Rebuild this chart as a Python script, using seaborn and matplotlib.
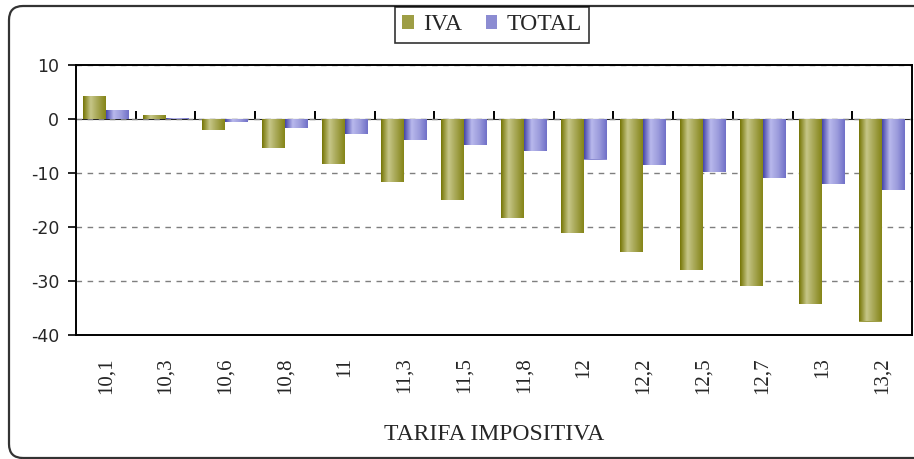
import numpy as np
import pandas as pd
import seaborn as sns
import matplotlib.pyplot as plt
from matplotlib.patches import FancyBboxPatch
from matplotlib.colors import LinearSegmentedColormap

tarifas = ["10,1", "10,3", "10,6", "10,8", "11", "11,3", "11,5", "11,8",
           "12", "12,2", "12,5", "12,7", "13", "13,2"]
iva = [4.2, 0.8, -2.0, -5.4, -8.3, -11.6, -15.0, -18.3, -21.2, -24.6, -27.9, -31.0, -34.2, -37.5]
total = [1.6, 0.1, -0.5, -1.6, -2.7, -3.8, -4.9, -6.0, -7.5, -8.6, -9.8, -10.9, -12.0, -13.1]
series = ["IVA", "TOTAL"]
y_ticks = [10, 0, -10, -20, -30, -40]

df = pd.DataFrame({
    "tarifa": tarifas * 2,
    "serie": ["IVA"] * len(tarifas) + ["TOTAL"] * len(tarifas),
    "valor": iva + total,
})

olive = "#9e9e45"
blue = "#8c8cd2"
olive_cmap = LinearSegmentedColormap.from_list("olive", ["#767606", "#c6c688", "#a4a450", "#858518"])
blue_cmap = LinearSegmentedColormap.from_list("blue", ["#4646aa", "#b8b8ec", "#9c9cdc", "#7070c8"])

sns.set_style("white")
serif = ["Liberation Serif", "DejaVu Serif"]

fig = plt.figure(figsize=(9.14, 4.59), dpi=100)
ax = fig.add_axes([76 / 914, 124 / 459, 836 / 914, 270 / 459])

sns.barplot(data=df, x="tarifa", y="valor", hue="serie", hue_order=series,
            palette=[olive, blue], width=0.77, ax=ax, legend=False,
            edgecolor="none", linewidth=0, saturation=1)

# gradient shading clipped to each bar
grad = np.linspace(0, 1, 64).reshape(1, -1)
for cont, cmap in zip(ax.containers, [olive_cmap, blue_cmap]):
    for p in cont:
        x0, y0, w, h = p.get_x(), p.get_y(), p.get_width(), p.get_height()
        if abs(h) < 1e-9:
            continue
        im = ax.imshow(grad, cmap=cmap, extent=(x0, x0 + w, y0, y0 + h),
                       aspect="auto", zorder=p.get_zorder() + 0.1)
        im.set_clip_path(p)

ymin, ymax = -40, 10
ax.set_xlim(-0.5, len(tarifas) - 0.5)
ax.set_ylim(ymin, ymax)
ax.set_yticks(y_ticks)
ax.set_yticklabels([str(v) for v in y_ticks], fontsize=12.5, family="DejaVu Sans")
ax.tick_params(axis="y", direction="out", length=6, width=1.2, color="black", pad=6, left=True)
ax.tick_params(axis="x", length=0, pad=16)
ax.set_xticks(range(len(tarifas)))
ax.set_xticklabels(tarifas, rotation=90, fontsize=15, family=serif)

ax.set_axisbelow(True)
ax.yaxis.grid(True, linestyle=(0, (4, 4)), color="#7f7f7f", linewidth=1)
ax.xaxis.grid(False)
for s in ax.spines.values():
    s.set_visible(True)
    s.set_color("black")
    s.set_linewidth(1.4)

ax.set_xlabel("TARIFA IMPOSITIVA", fontsize=17, family=serif, labelpad=22)
ax.set_ylabel("")

# category axis crossing at zero with tick marks between groups
zero_pos = (0 - ymin) / (ymax - ymin)
sec = ax.secondary_xaxis(zero_pos)
sec.set_xticks(np.arange(len(tarifas) - 1) + 0.5)
sec.set_xticklabels([])
sec.tick_params(direction="out", length=6, width=1.4, color="black")
sec.spines["bottom"].set_linewidth(1.4)
sec.spines["bottom"].set_color("black")

# legend
handles = [plt.Rectangle((0, 0), 1, 1, facecolor=c, edgecolor="none") for c in [olive, blue]]
leg = fig.legend(handles, series, loc="center", bbox_to_anchor=(492 / 914, 1 - 25 / 459),
                 ncol=2, frameon=True, fancybox=False, prop={"family": serif, "size": 17},
                 handlelength=0.5, handleheight=0.5, handletextpad=0.4,
                 columnspacing=1.0, borderpad=0.3, borderaxespad=0)
leg.get_frame().set_edgecolor("black")
leg.get_frame().set_linewidth(1.2)

# outer rounded frame
frame = FancyBboxPatch((9, 1), 925, 452, boxstyle="round,pad=0,rounding_size=14",
                       transform=None, facecolor="none", edgecolor="#333333",
                       linewidth=1.6, figure=fig)
fig.patches.append(frame)

fig.savefig("out.png", dpi=100)
